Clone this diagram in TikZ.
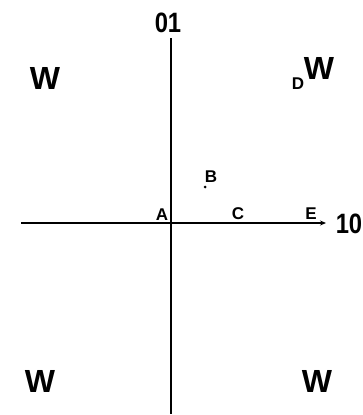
\documentclass[tikz,border=0pt]{standalone}
\usepackage{fontspec}
\setmainfont{Liberation Sans}
\usetikzlibrary{arrows.meta}
\tikzset{
  axis/.style={line width=1.8pt, black},
  big/.style={inner sep=0pt, font=\fontsize{32}{32}\selectfont\bfseries},
  num/.style={inner sep=0pt, xscale=0.85, font=\fontsize{28}{28}\selectfont\bfseries},
  small/.style={inner sep=0pt, font=\fontsize{17}{17}\selectfont\bfseries},
  dotmark/.style={fill=black, circle, inner sep=0pt, minimum size=3pt}
}
\begin{document}
\begin{tikzpicture}[x=1pt,y=-1pt]
\useasboundingbox (0,0) rectangle (363,415);
\coordinate (L) at (21,223);
\coordinate (R) at (326,223);
\coordinate (T) at (171,38);
\coordinate (Bt) at (171,414);
\draw[axis, -{Stealth[length=6pt,width=5pt]}] (L) -- (R);
\draw[axis] (T) -- (Bt);
\node[num] (n01) at (168,23) {01};
\node[num] (n10) at (349,224) {10};
\node[big] (w1) at (45,78) {W};
\node[big] (w2) at (319,68) {W};
\node[big] (w3) at (40,381) {W};
\node[big] (w4) at (317,381) {W};
\node[small] (d) at (298,84) {D};
\node[small] (a) at (162,215) {A};
\node[small] (b) at (211,177) {B};
\node[dotmark] (bp) at (205,187) {};
\node[small] (c) at (238,214) {C};
\node[small] (e) at (311,214) {E};
\end{tikzpicture}
\end{document}
